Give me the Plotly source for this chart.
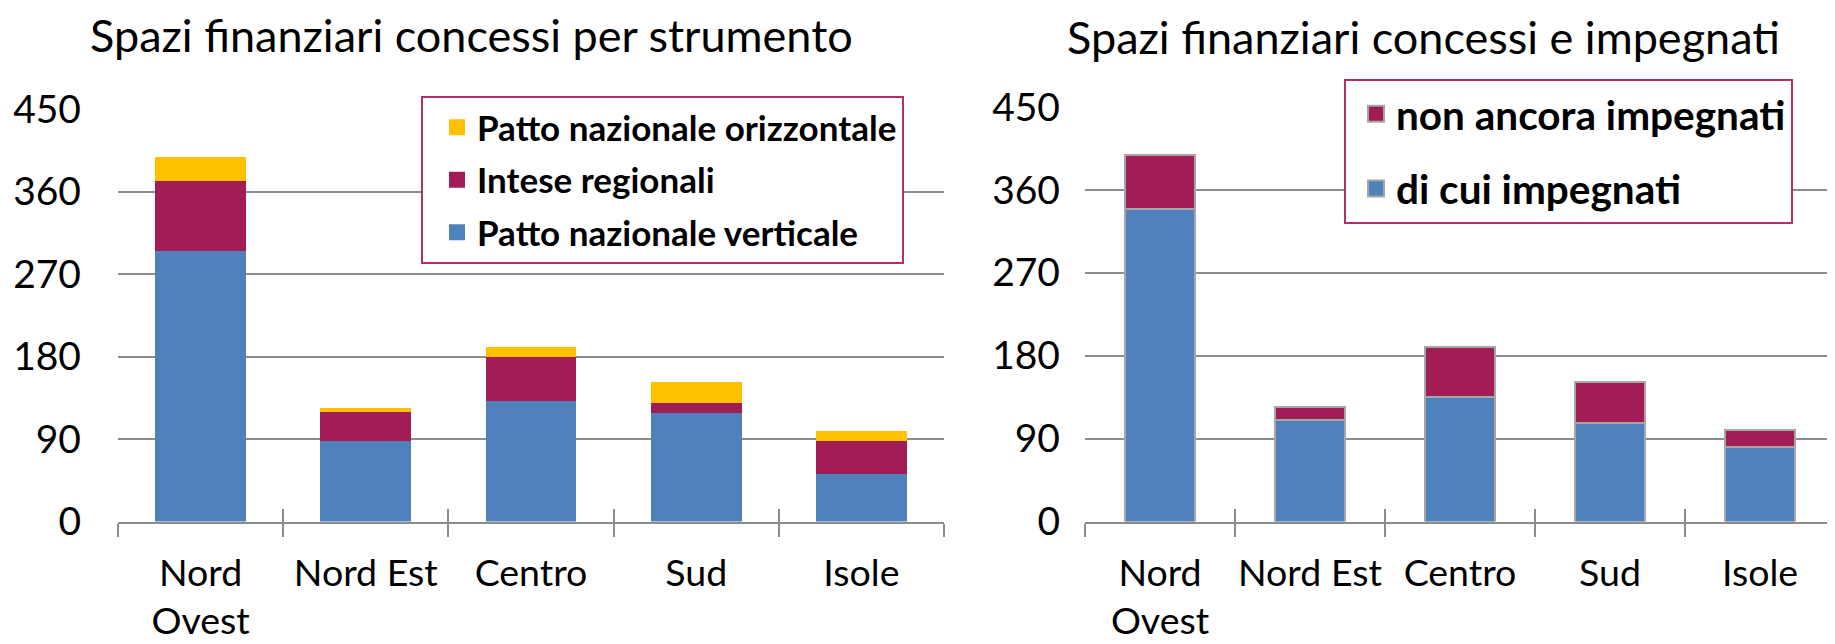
import plotly.graph_objects as go

# The page body has an 8px margin, so the figure is drawn 8px right/down.
OFF = 8
W, H = 1835 - OFF, 644 - OFF


def px(x):
    return (x - OFF) / W


def py(y):
    return 1 - (y - OFF) / H


categories = ["Nord<br>Ovest", "Nord Est", "Centro", "Sud", "Isole"]

# Left chart: Spazi finanziari concessi per strumento
patto_verticale = [295, 88, 131, 118, 52]
intese_regionali = [76, 31, 48, 11, 36]
patto_orizzontale = [27, 5, 11, 23, 11]

# Right chart: Spazi finanziari concessi e impegnati
impegnati = [339, 110, 135, 107, 81]
non_impegnati = [59, 14, 54, 44, 18]

y_ticks = [0, 90, 180, 270, 360, 450]

BLUE = "#4F81BD"
CRIMSON = "#A21D56"
YELLOW = "#FFC000"
GRID = "#8C8C8C"
LEG_BORDER = "#B22F6A"
FONT = "Lato"

fig = go.Figure()

# Left chart bars
for name, vals, col in [("Patto nazionale verticale", patto_verticale, BLUE),
                        ("Intese regionali", intese_regionali, CRIMSON),
                        ("Patto nazionale orizzontale", patto_orizzontale, YELLOW)]:
    fig.add_trace(go.Bar(x=categories, y=vals, name=name, marker=dict(color=col, line=dict(width=0)),
                         width=0.55, xaxis="x", yaxis="y", showlegend=False))

# Right chart bars
for name, vals, col in [("di cui impegnati", impegnati, BLUE),
                        ("non ancora impegnati", non_impegnati, CRIMSON)]:
    fig.add_trace(go.Bar(x=categories, y=vals, name=name,
                         marker=dict(color=col, line=dict(width=2, color="#A6A6A6")),
                         width=0.47, xaxis="x2", yaxis="y2", showlegend=False))

# Legend entries (larger square symbols)
for i, (name, col) in enumerate([("Patto nazionale orizzontale", YELLOW),
                                 ("Intese regionali", CRIMSON),
                                 ("Patto nazionale verticale", BLUE)]):
    fig.add_trace(go.Scatter(x=[None], y=[None], mode="markers", name=name,
                             marker=dict(symbol="square", size=16, color=col, line=dict(width=0)),
                             legend="legend", legendgroup="l%d" % i, xaxis="x3", yaxis="y"))
for i, (name, col) in enumerate([("non ancora impegnati", CRIMSON),
                                 ("di cui impegnati", BLUE)]):
    fig.add_trace(go.Scatter(x=[None], y=[None], mode="markers", name=name,
                             marker=dict(symbol="square", size=16, color=col, line=dict(width=2, color="#A6A6A6")),
                             legend="legend2", legendgroup="r%d" % i, xaxis="x4", yaxis="y2"))

ydom_l = [py(521.5), py(109)]
ydom_r = [py(521.5), py(107)]
xdom_l = [px(118), px(944)]
xdom_r = [px(1085), 1.0]

xcommon = dict(type="category", range=[-0.5, 4.5], tickson="boundaries", ticks="outside", ticklen=13,
               tickwidth=2, tickcolor=GRID, showline=True, linecolor=GRID, linewidth=2, showgrid=False,
               tickangle=0, automargin=False,
               tickfont=dict(family=FONT, size=37.5, color="#000"), ticklabelstandoff=17, fixedrange=True)
ycommon = dict(range=[0, 450], tickvals=y_ticks, showgrid=True, gridcolor=GRID, gridwidth=2,
               zeroline=False, showline=False, ticks="", automargin=False,
               tickfont=dict(family=FONT, size=39, color="#000"))
xinside = dict(type="linear", range=[-0.5, 4.5], tick0=0.5, dtick=1, ticks="inside", ticklen=13,
               tickwidth=2, tickcolor=GRID, showticklabels=False, showline=False, showgrid=False,
               zeroline=False, automargin=False)

fig.update_layout(
    width=W, height=H,
    margin=dict(l=0, r=0, t=0, b=0, autoexpand=False),
    paper_bgcolor="white", plot_bgcolor="white",
    barmode="stack",
    font=dict(family=FONT, color="#000"),
    xaxis=dict(domain=xdom_l, anchor="y", **xcommon),
    yaxis=dict(domain=ydom_l, anchor="x", ticklabelstandoff=36, **ycommon),
    xaxis2=dict(domain=xdom_r, anchor="y2", **xcommon),
    yaxis2=dict(domain=ydom_r, anchor="x2", ticklabelstandoff=24, **ycommon),
    xaxis3=dict(domain=xdom_l, anchor="y", overlaying="x", **xinside),
    xaxis4=dict(domain=xdom_r, anchor="y2", overlaying="x2", **xinside),
    legend=dict(x=px(421), y=py(96), xanchor="left", yanchor="top", bgcolor="white",
                bordercolor=LEG_BORDER, borderwidth=2, traceorder="grouped", tracegroupgap=4,
                indentation=14, entrywidth=455,
                font=dict(family=FONT, size=35, color="#000", weight="bold")),
    legend2=dict(x=px(1344), y=py(79), xanchor="left", yanchor="top", bgcolor="white",
                 bordercolor=LEG_BORDER, borderwidth=2, traceorder="grouped", tracegroupgap=19,
                 indentation=10, entrywidth=412,
                 font=dict(family=FONT, size=40.5, color="#000", weight="bold")),
    annotations=[
        dict(text="Spazi finanziari concessi per strumento", xref="paper", yref="paper",
             x=px(88), y=py(35), xanchor="left", yanchor="middle", showarrow=False,
             font=dict(family=FONT, size=45, color="#000")),
        dict(text="Spazi finanziari concessi e impegnati", xref="paper", yref="paper",
             x=px(1065), y=py(37), xanchor="left", yanchor="middle", showarrow=False,
             font=dict(family=FONT, size=45, color="#000")),
    ],
)

fig.write_html("out.html")
